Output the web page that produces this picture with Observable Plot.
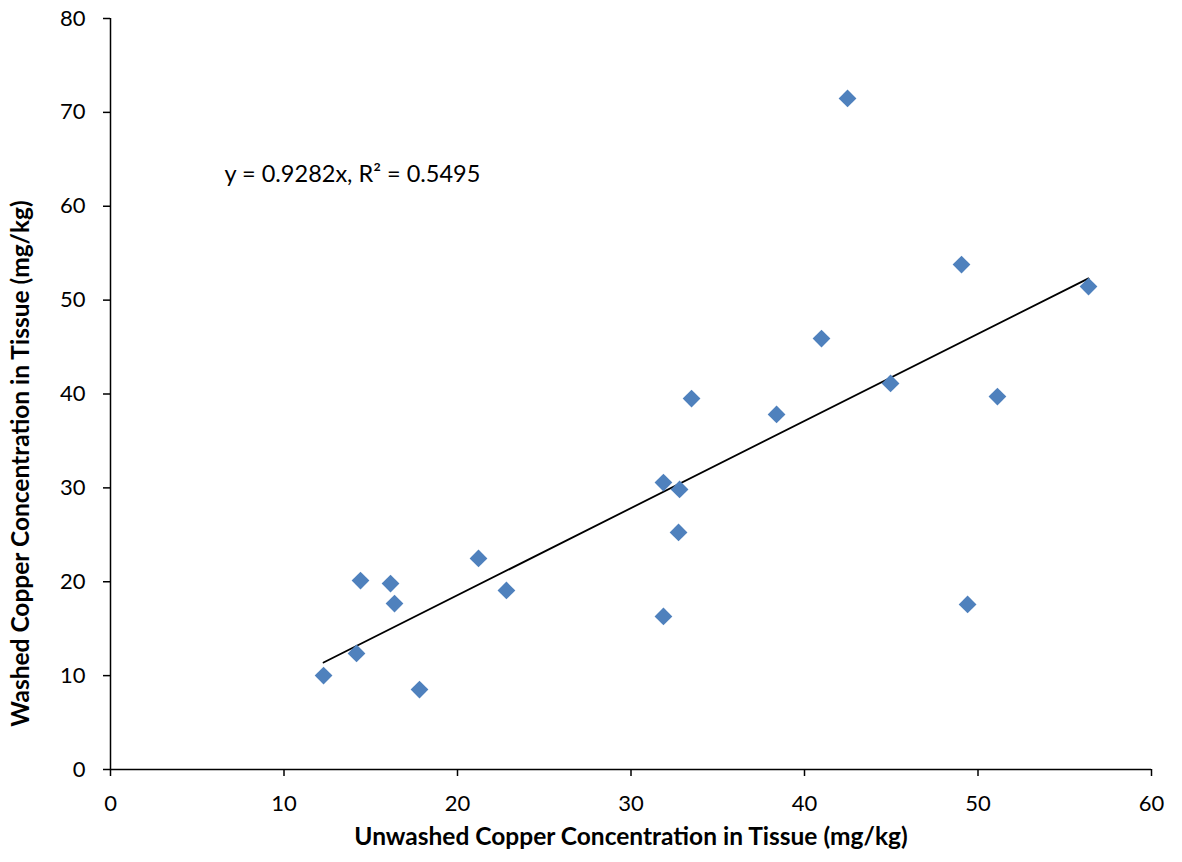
<!DOCTYPE html>
<html>
<head>
<meta charset="utf-8">
<script src="https://cdn.jsdelivr.net/npm/d3@7"></script>
<script src="https://cdn.jsdelivr.net/npm/@observablehq/plot@0.6"></script>
<style>
  html, body { margin: 0; padding: 0; background: #fff; }
</style>
</head>
<body>
<div id="chart"></div>
<script>
// Unwashed (x) vs washed (y) copper concentration in tissue (mg/kg)
const unwashed = [12.28, 14.18, 14.41, 16.14, 16.37, 17.81, 21.21, 22.82, 31.87, 31.87, 32.80,
                  32.74, 33.49, 38.39, 40.98, 42.48, 44.96, 49.05, 49.40, 51.12, 56.37];
const washed   = [10.01, 12.36, 20.13, 19.81, 17.68, 8.52, 22.48, 19.07, 16.30, 30.57, 29.83,
                  25.25, 39.52, 37.82, 45.91, 71.48, 41.12, 53.79, 17.58, 39.73, 51.45];
const slope = 0.9282;
const rSquared = 0.5495;
const xTicks = [0, 10, 20, 30, 40, 50, 60];
const yTicks = [0, 10, 20, 30, 40, 50, 60, 70, 80];
const xTitle = "Unwashed Copper Concentration in Tissue (mg/kg)";
const yTitle = "Washed Copper Concentration in Tissue (mg/kg)";
const equationText = `y = ${slope}x, R² = ${rSquared}`;
const equationPos = [6.57, 63.4];

const points = unwashed.map((x, i) => ({x, y: washed[i]}));
const [xmin, xmax] = d3.extent(unwashed);
const trend = [xmin, xmax].map(x => ({x, y: slope * x}));

const chart = Plot.plot({
  width: 1182,
  height: 862,
  marginLeft: 110,
  marginRight: 31,
  marginTop: 18,
  marginBottom: 93,
  style: {fontFamily: "Lato, 'Open Sans', sans-serif", fontSize: "22px", color: "#000", background: "#fff"},
  x: {domain: [0, 60]},
  y: {domain: [0, 80]},
  marks: [
    Plot.axisX({ticks: xTicks, tickSize: 7, tickPadding: 19, tickFormat: d3.format("d"),
      label: null, stroke: "#000", strokeWidth: 1.5, fontSize: 22}),
    Plot.axisY({ticks: yTicks, tickSize: 7, tickPadding: 18, tickFormat: d3.format("d"),
      label: null, stroke: "#000", strokeWidth: 1.5, fontSize: 22}),
    Plot.ruleX([0], {stroke: "#000", strokeWidth: 1.5}),
    Plot.ruleY([0], {stroke: "#000", strokeWidth: 1.5}),
    Plot.line(trend, {x: "x", y: "y", stroke: "#000", strokeWidth: 1.8}),
    Plot.dot(points, {x: "x", y: "y", symbol: "diamond2", r: 8, fill: "#4F81BD", stroke: "none"}),
    Plot.text([equationText], {x: () => equationPos[0], y: () => equationPos[1], text: d => d,
      textAnchor: "start", lineAnchor: "middle", fontSize: 23.5, fill: "#000"}),
    Plot.text([xTitle], {frameAnchor: "bottom", text: d => d, dy: 68, lineAnchor: "middle",
      textAnchor: "middle", fontSize: 24.5, fontWeight: "bold", fill: "#000"}),
    Plot.text([yTitle], {frameAnchor: "left", text: d => d, rotate: -90, dx: -89, dy: 69.5,
      textAnchor: "middle", lineAnchor: "middle", fontSize: 24.5, fontWeight: "bold", fill: "#000"})
  ]
});
document.getElementById("chart").appendChild(chart);
</script>
</body>
</html>
